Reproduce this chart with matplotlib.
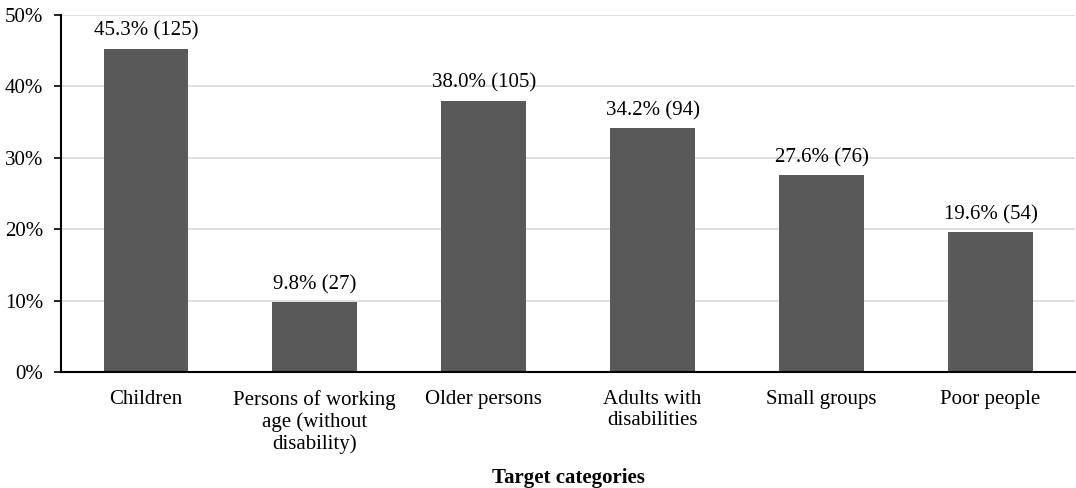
import matplotlib.pyplot as plt
from matplotlib.ticker import PercentFormatter

categories = ['Children', 'Persons of working\nage (without\ndisability)', 'Older persons',
              'Adults with\ndisabilities', 'Small groups', 'Poor people']
percent = [45.3, 9.8, 38.0, 34.2, 27.6, 19.6]
counts = [125, 27, 105, 94, 76, 54]

plt.rcParams['font.family'] = ['Liberation Serif', 'DejaVu Serif']
fs = 15

fig = plt.figure(figsize=(10.76, 4.88), dpi=100)
ax = fig.add_axes([0.057, 0.238, 0.942, 0.731])

x = range(len(categories))
bars = ax.bar(x, percent, width=0.5, color='#595959', zorder=3)
for b, p, n in zip(bars, percent, counts):
    ax.text(b.get_x() + b.get_width() / 2, p + 1.1, f'{p:.1f}% ({n})',
            ha='center', va='bottom', fontsize=fs)

ax.set_xlim(-0.5, len(categories) - 0.5)
ax.set_ylim(0, 50)
ax.set_yticks(range(0, 51, 10))
ax.yaxis.set_major_formatter(PercentFormatter(decimals=0))
ax.set_xticks(list(x))
ax.set_xticklabels(categories, fontsize=fs, linespacing=1.15)
ax.tick_params(axis='y', labelsize=fs, length=5, width=1.2, color='black', pad=8)
ax.tick_params(axis='x', length=0, pad=13)
ax.grid(axis='y', color='#d9d9d9', linewidth=1.2, zorder=0)

for s in ['top', 'right']:
    ax.spines[s].set_visible(False)
ax.spines['left'].set_linewidth(1.5)
ax.spines['bottom'].set_linewidth(1.5)
ax.spines['left'].set_zorder(4)
ax.spines['bottom'].set_zorder(4)

ax.set_xlabel('Target categories', fontweight='bold', fontsize=fs, labelpad=10)

fig.savefig('out.png', dpi=100)
